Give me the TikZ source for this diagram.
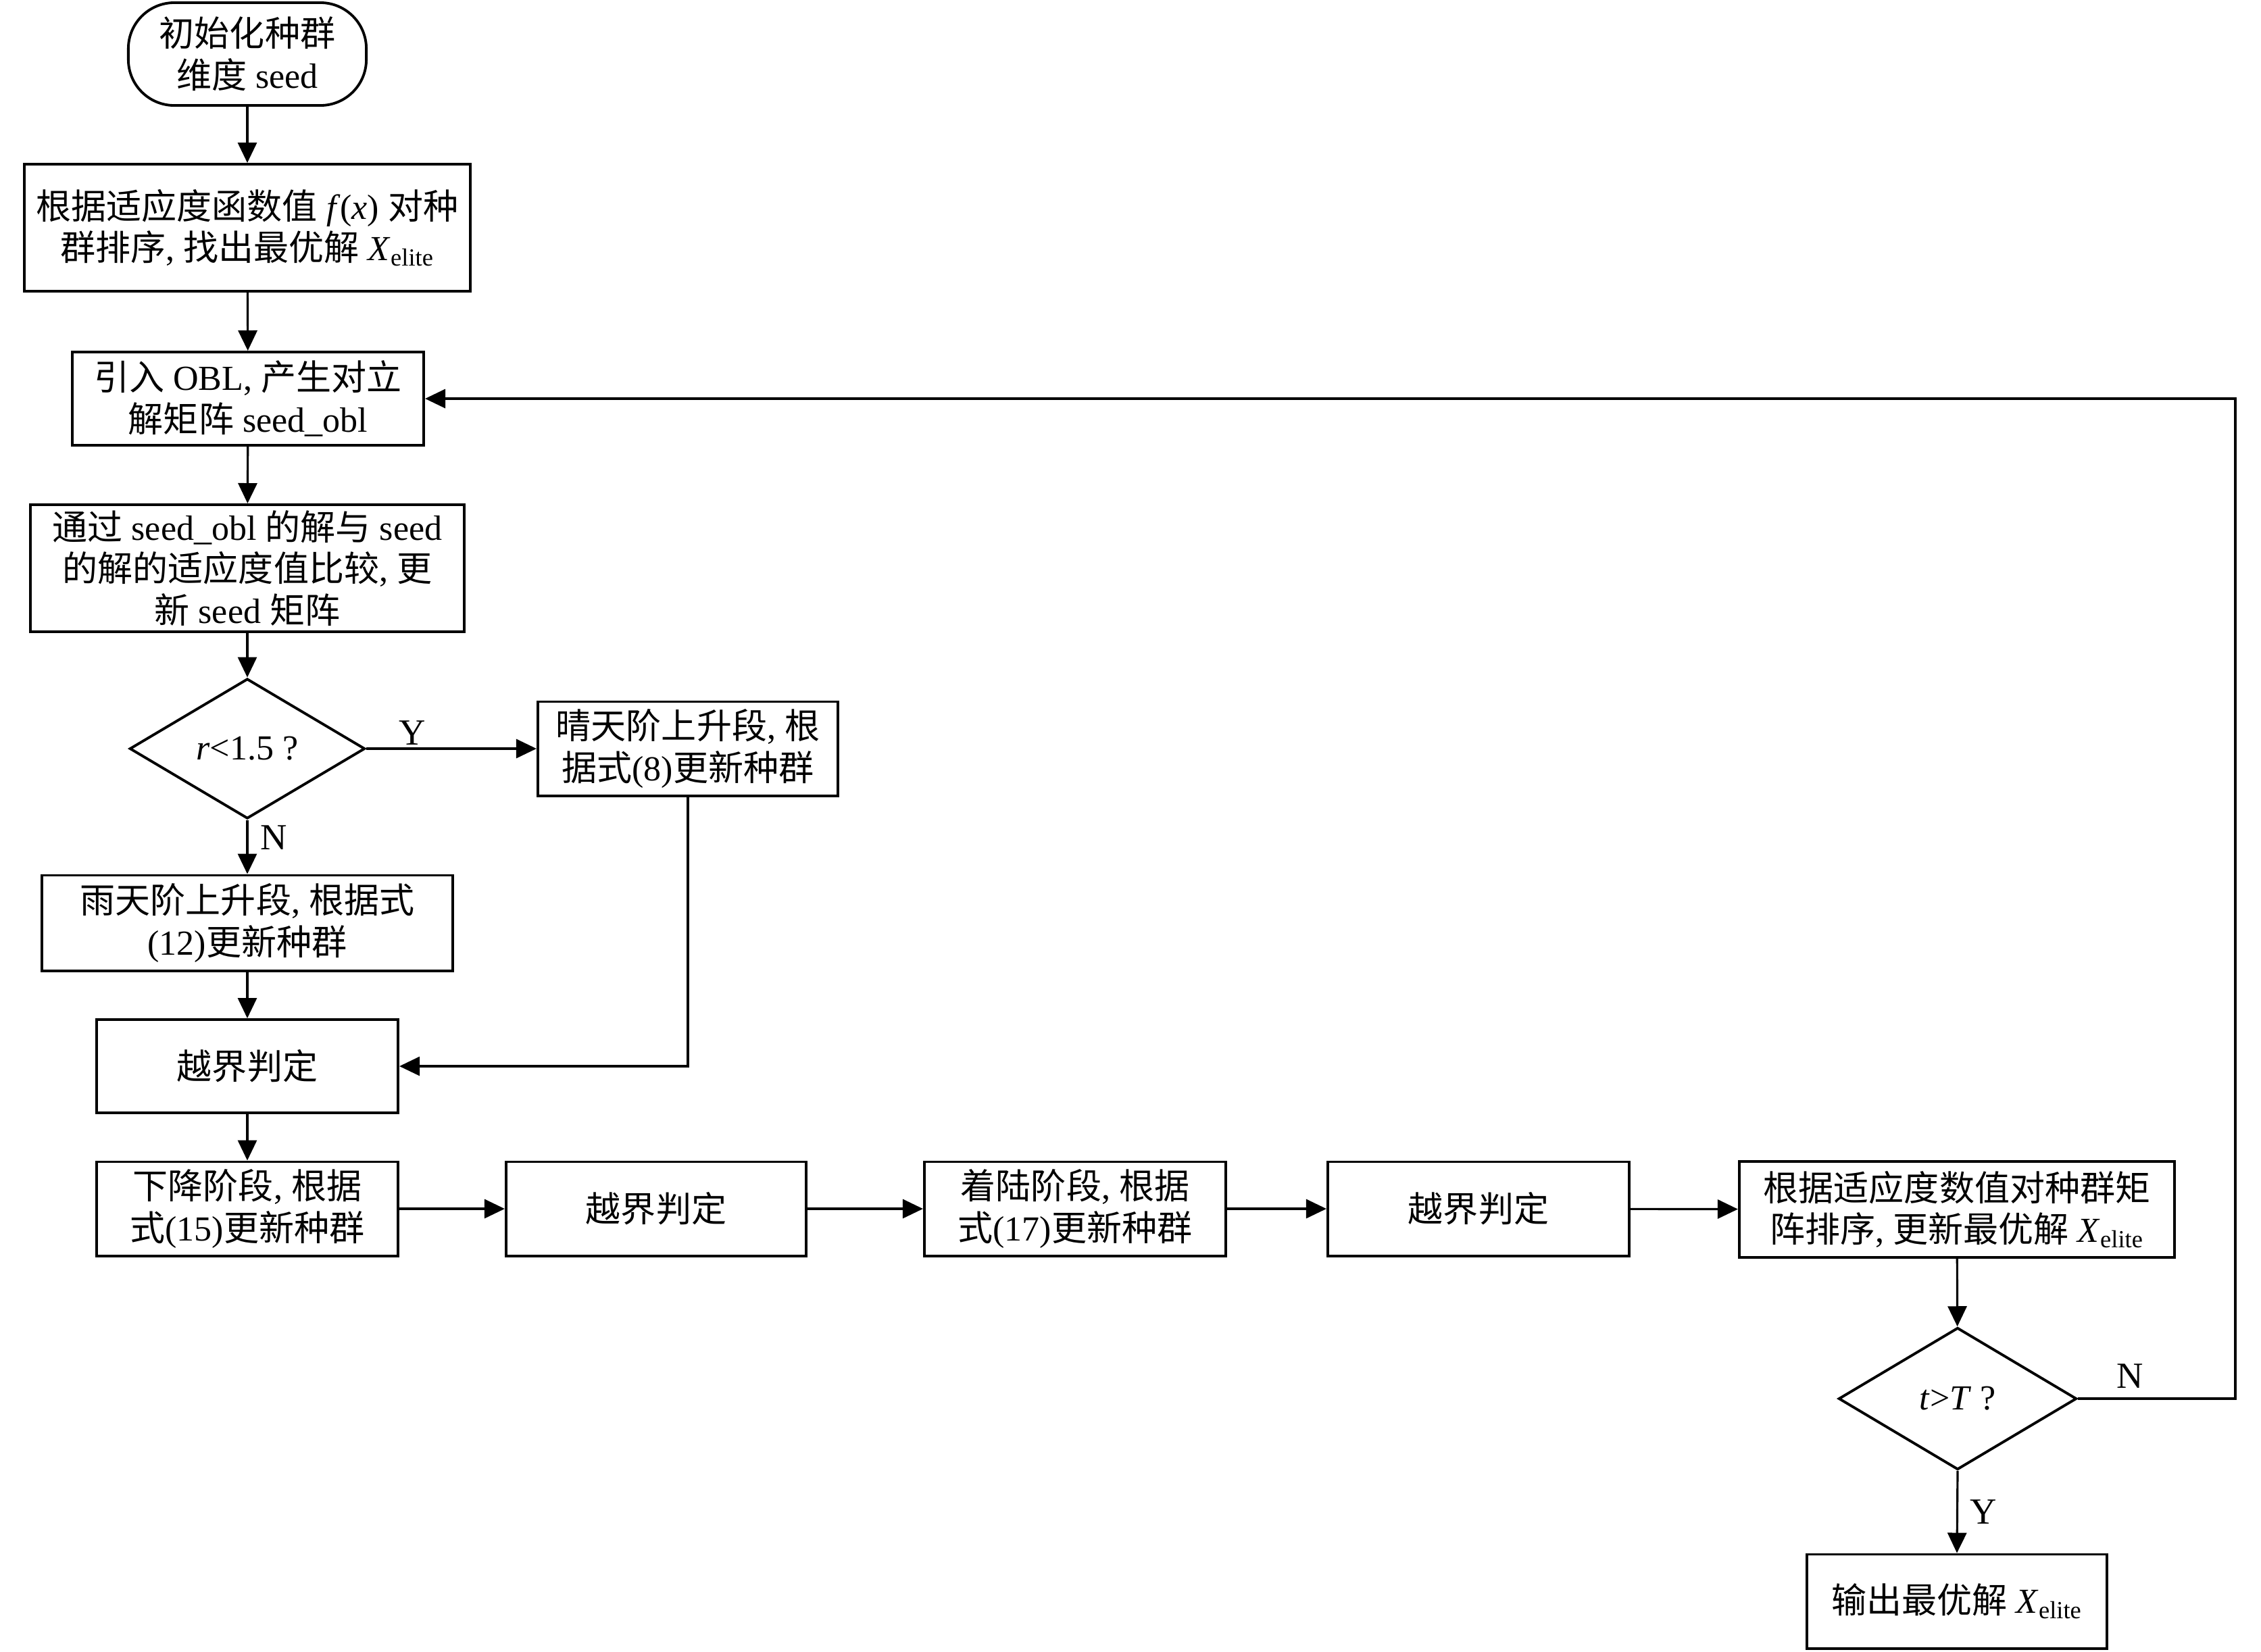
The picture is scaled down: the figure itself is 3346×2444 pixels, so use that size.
\documentclass[tikz,border=0pt]{standalone}
\usepackage{fontspec}
\setmainfont{Liberation Serif}
\newfontfamily\cjk{Noto Sans CJK SC}
\usetikzlibrary{shapes.geometric,arrows.meta}
\newcommand\zh[1]{{\cjk #1}}
\newcommand\xel{\textit{X}\textsubscript{elite}}
\begin{document}
\begin{tikzpicture}[x=0.01cm,y=-0.01cm,
  txt/.style={font=\fontsize{14.8}{17.6}\selectfont, align=center, inner sep=0pt},
  box/.style={txt, draw, line width=1.1pt, rectangle},
  startbox/.style={txt, draw, line width=1.1pt, rectangle, rounded corners=0.68cm},
  decide/.style={txt, draw, line width=1.1pt, diamond, aspect=1.68},
  arr/.style={line width=0.9pt, -{Triangle[length=0.3cm,width=0.28cm]}},
  lbl/.style={font=\fontsize{15.5}{17.6}\selectfont, inner sep=2pt}]
\fill[white] (0,0) rectangle (3346,2444);
\useasboundingbox (0,0) rectangle (3346,2444);

\node[startbox, minimum width=3.52cm, minimum height=1.52cm] (start) at (366,80)
  {\zh{初始化种群}\\\zh{维度} seed};
\node[box, minimum width=6.60cm, minimum height=1.88cm] (sortA) at (366,337)
  {\zh{根据适应度函数值} \textit{f}(\textit{x}) \zh{对种}\\\zh{群排序}, \zh{找出最优解} \xel};
\node[box, minimum width=5.20cm, minimum height=1.38cm] (obl) at (367,590)
  {\zh{引入} OBL, \zh{产生对立}\\\zh{解矩阵} seed\_obl};
\node[box, minimum width=6.42cm, minimum height=1.88cm] (cmp) at (366,841)
  {\zh{通过} seed\_obl \zh{的解与} seed\\\zh{的解的适应度值比较}, \zh{更}\\\zh{新} seed \zh{矩阵}};
\node[decide, minimum width=3.48cm, minimum height=2.07cm] (d1) at (366,1108)
  {\textit{r}<1.5 ?};
\node[box, minimum width=4.44cm, minimum height=1.39cm] (sunny) at (1018,1108)
  {\zh{晴天阶上升段}, \zh{根}\\\zh{据式}(8)\zh{更新种群}};
\node[box, minimum width=6.08cm, minimum height=1.41cm] (rain) at (366,1366)
  {\zh{雨天阶上升段}, \zh{根据式}\\(12)\zh{更新种群}};
\node[box, minimum width=4.46cm, minimum height=1.38cm] (b1) at (366,1578)
  {\zh{越界判定}};
\node[box, minimum width=4.46cm, minimum height=1.39cm] (down) at (366,1789)
  {\zh{下降阶段}, \zh{根据}\\\zh{式}(15)\zh{更新种群}};
\node[box, minimum width=4.44cm, minimum height=1.39cm] (b2) at (971,1789)
  {\zh{越界判定}};
\node[box, minimum width=4.46cm, minimum height=1.39cm] (land) at (1591,1789)
  {\zh{着陆阶段}, \zh{根据}\\\zh{式}(17)\zh{更新种群}};
\node[box, minimum width=4.46cm, minimum height=1.39cm] (b3) at (2188,1789)
  {\zh{越界判定}};
\node[box, minimum width=6.44cm, minimum height=1.42cm] (sortB) at (2896,1790)
  {\zh{根据适应度数值对种群矩}\\\zh{阵排序}, \zh{更新最优解} \xel};
\node[decide, minimum width=3.52cm, minimum height=2.10cm] (d2) at (2897,2070)
  {\textit{t}>\textit{T} ?};
\node[box, minimum width=4.44cm, minimum height=1.39cm] (out) at (2896,2370)
  {\zh{输出最优解} \xel};
\coordinate (loopc) at (3308,2070);

\draw[arr] (start) -- (sortA);
\draw[arr] (sortA) -- (obl);
\draw[arr] (obl) -- (cmp);
\draw[arr] (cmp) -- (d1);
\draw[arr] (d1.east) -- node[lbl, above, pos=0.27, inner sep=1pt] {Y} (sunny.west);
\draw[arr] (d1.south) -- node[lbl, right, pos=0.33, xshift=3pt] {N} (rain.north);
\draw[arr] (rain) -- (b1);
\draw[arr] (sunny.south) |- (b1.east);
\draw[arr] (b1) -- (down);
\draw[arr] (down) -- (b2);
\draw[arr] (b2) -- (land);
\draw[arr] (land) -- (b3);
\draw[arr] (b3) -- (sortB);
\draw[arr] (sortB) -- (d2);
\draw[arr] (d2.south) -- node[lbl, right, pos=0.5, xshift=3pt] {Y} (out.north);
\draw[arr] (d2.east) -- node[lbl, above, pos=0.33, yshift=2pt] {N} (loopc) |- (obl.east);
\end{tikzpicture}
\end{document}
